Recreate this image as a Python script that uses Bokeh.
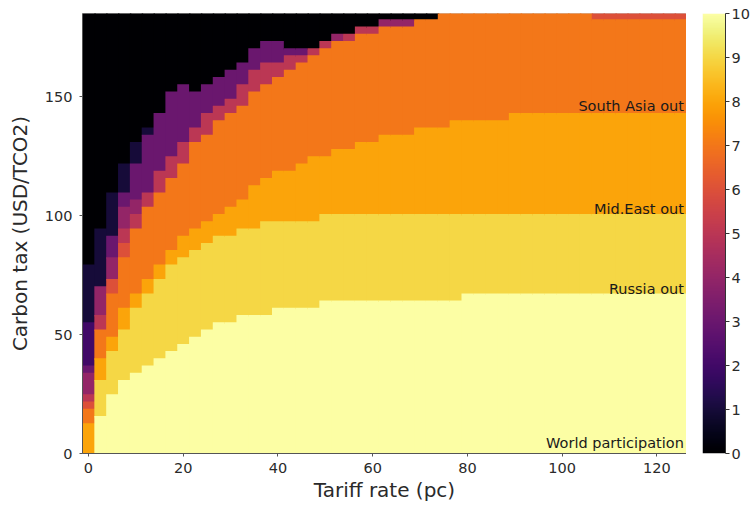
import numpy as np
from bokeh.plotting import figure
from bokeh.models import ColumnDataSource, LinearColorMapper, FixedTicker, Range1d, LinearAxis
from bokeh.palettes import Inferno256
from bokeh.layouts import row
from bokeh.embed import file_html
from bokeh.resources import INLINE
from bokeh.transform import linear_cmap
from bokeh.core.properties import value

# ---------------- data ----------------
tariff_rates = [0, 2.5, 5, 7.5, 10, 12.5, 15, 17.5, 20, 22.5, 25, 27.5, 30, 32.5, 35, 37.5,
                40, 42.5, 45, 47.5, 50, 52.5, 55, 57.5, 60, 62.5, 65, 67.5, 70, 72.5, 75,
                77.5, 80, 82.5, 85, 87.5, 90, 92.5, 95, 97.5, 100, 102.5, 105, 107.5, 110,
                112.5, 115, 117.5, 120, 122.5, 125]
tax_max = 185.0
n_tax_rows = 61

# number of carbon-tax rows (from the bottom) in which at least k regions participate
top_ge1 = [26, 31, 36, 40, 43, 45, 47, 50, 51, 50, 51, 52, 53, 54, 56, 57, 57, 56, 56, 56,
           57, 58, 58, 59, 59, 60, 60, 60, 60, 60] + [61] * 21
top_ge2 = [18, 23, 30, 36, 40, 44, 47, 50, 51, 50, 51, 52, 53, 54, 56, 57, 57, 56, 56, 56,
           57, 58, 58, 59, 59, 60, 60, 60, 60, 60] + [61] * 21
top_ge3 = [12, 23, 30, 36, 40, 44, 47, 50, 51, 50, 51, 52, 53, 54, 56, 57, 57, 56, 56, 56,
           57, 58, 58, 59, 59, 60, 60, 60, 60, 60] + [61] * 21
top_ge4 = [11, 23, 27, 34, 35, 36, 39, 41, 43, 45, 47, 48, 49, 51, 53, 54, 54, 55, 55, 56,
           57, 58, 58, 59, 59, 60, 60, 60, 60, 60] + [61] * 21
top_ge5 = [8, 19, 24, 31, 33, 36, 39, 41, 43, 45, 47, 48, 49, 51, 53, 54, 54, 55, 55, 56,
           57, 57, 58, 59, 59, 59, 59, 59, 60, 60] + [61] * 21
top_ge6 = [7, 17, 24, 29, 31, 34, 36, 38, 40, 43, 44, 46, 47, 48, 50, 51, 52, 53, 54, 55,
           56, 57, 57, 58, 58, 59, 59, 59, 60, 60] + [61] * 21
top_ge7 = [6, 17, 22, 27, 31, 34, 36, 38, 40, 43, 44, 46, 47, 48, 50, 51, 52, 53, 54, 55,
           56, 57, 57, 58, 58, 59, 59, 59, 60, 60] + [61] * 13 + [60] * 8
top_ge8 = [4, 13, 16, 20, 22, 24, 26, 28, 30, 31, 32, 33, 34, 35, 37, 38, 39, 39, 40, 41,
           41, 42, 42, 43, 43, 44, 44, 44, 45, 45, 45] + [46] * 5 + [47] * 15
top_ge9 = [0, 10, 14, 17, 20, 22, 24, 26, 27, 28, 29, 30, 30, 31, 31, 32, 32, 32, 32, 32] + [33] * 31
top_ge10 = [0, 5, 8, 10, 11, 12, 13, 14, 15, 16, 17, 18, 18, 19, 19, 19, 20, 20, 20, 20] + [21] * 12 + [22] * 19

levels = [top_ge1, top_ge2, top_ge3, top_ge4, top_ge5, top_ge6, top_ge7, top_ge8, top_ge9, top_ge10]

label_texts = ["South Asia out", "Mid.East out", "Russia out", "World participation"]
label_y = [146, 103, 69, 4.5]
label_x = [125.7, 125.7, 125.7, 125.7]

x_ticks = [0, 20, 40, 60, 80, 100, 120]
y_ticks = [0, 50, 100, 150]
cbar_ticks = [0, 1, 2, 3, 4, 5, 6, 7, 8, 9, 10]

# ---------------- build cells ----------------
edges = np.linspace(0, tax_max, n_tax_rows + 1)
half = (tariff_rates[1] - tariff_rates[0]) / 2
ov_x = 0.3    # small overlaps so that no seams show between cells
ov_y = 0.6
L, R, B, T, V = [], [], [], [], []
for j, xr in enumerate(tariff_rates):
    tops = [n_tax_rows] + [lv[j] for lv in levels] + [0]
    for v in range(11):
        t, b = tops[v], tops[v + 1]
        if t > b:
            L.append(xr - half); R.append(xr + half + ov_x)
            B.append(edges[b]); T.append(edges[t] + ov_y); V.append(v)
src = ColumnDataSource(dict(left=L, right=R, bottom=B, top=T, val=V))

FONT = "DejaVu Sans"
TXT = "#2a2a2a"

p = figure(width=686, height=508, output_backend="svg", toolbar_location=None,
           x_range=Range1d(tariff_rates[0] - half, tariff_rates[-1] + half),
           y_range=Range1d(0, tax_max),
           min_border_left=82, min_border_right=0, min_border_top=13, min_border_bottom=55)
cmap = linear_cmap("val", Inferno256, 0, 10)
p.quad(left="left", right="right", bottom="bottom", top="top", source=src,
       fill_color=cmap, line_color=None)

p.text(x=label_x, y=label_y, text=label_texts, text_align="right", text_baseline="middle",
       text_font=value(FONT), text_font_size="14.5px", text_color="#1a1a1a")

p.xgrid.visible = False
p.ygrid.visible = False
p.outline_line_color = "#c8c8c8"
p.background_fill_color = "white"
p.xaxis.ticker = FixedTicker(ticks=x_ticks)
p.yaxis.ticker = FixedTicker(ticks=y_ticks)
p.xaxis.axis_label = "Tariff rate (pc)"
p.yaxis.axis_label = "Carbon tax (USD/TCO2)"
for ax in (p.xaxis[0], p.yaxis[0]):
    ax.major_label_text_font = FONT
    ax.major_label_text_font_size = "14.5px"
    ax.major_label_text_color = TXT
    ax.axis_label_text_font = FONT
    ax.axis_label_text_font_size = "20px"
    ax.axis_label_text_font_style = "normal"
    ax.axis_label_text_color = TXT
    ax.minor_tick_line_color = None
    ax.major_tick_in = 0
    ax.major_tick_out = 3
    ax.axis_line_color = "#555555"
    ax.major_tick_line_color = "#555555"
p.xaxis.major_label_standoff = 6
p.xaxis.axis_label_standoff = 2
p.yaxis.major_label_standoff = 7
p.yaxis.axis_label_standoff = 10

# ---------------- colour bar ----------------
cb = figure(width=67, height=508, output_backend="svg", toolbar_location=None,
            x_range=Range1d(0, 1), y_range=Range1d(0, 10),
            min_border_left=16, min_border_right=28, min_border_top=13, min_border_bottom=55)
grad = np.linspace(0, 10, 256).reshape(256, 1)
cb.image(image=[grad], x=0, y=0, dw=1, dh=10,
         color_mapper=LinearColorMapper(palette=Inferno256, low=0, high=10))
cb.xaxis.visible = False
cb.yaxis.visible = False
cb.xgrid.visible = False
cb.ygrid.visible = False
cb.outline_line_color = None
rax = LinearAxis(ticker=FixedTicker(ticks=cbar_ticks))
rax.major_label_text_font = FONT
rax.major_label_text_font_size = "14.5px"
rax.major_label_text_color = TXT
rax.minor_tick_line_color = None
rax.major_tick_in = 0
rax.major_tick_out = 4
rax.major_label_standoff = 2
rax.axis_line_color = "#333333"
rax.major_tick_line_color = "#333333"
cb.add_layout(rax, "right")

layout = row(p, cb, spacing=0)
open("out.html", "w").write(file_html(layout, INLINE))
